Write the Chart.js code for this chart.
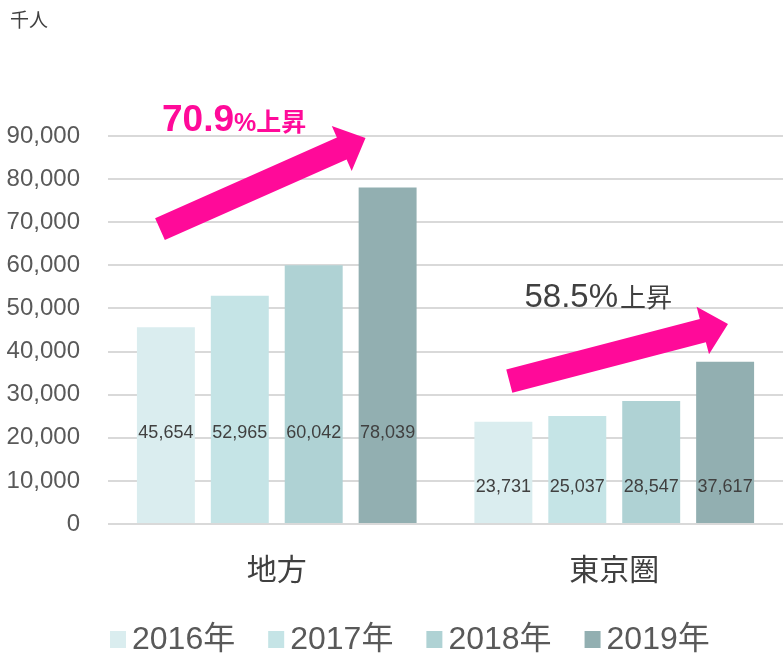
<!DOCTYPE html>
<html>
<head>
<meta charset="utf-8">
<script src="https://cdn.jsdelivr.net/npm/chart.js@4/dist/chart.umd.min.js"></script>
<style>
  html, body { margin: 0; padding: 0; background: #ffffff; }
  #wrap { width: 783px; height: 654px; }
</style>
</head>
<body>
<div id="wrap"><canvas id="chart" width="783" height="654"></canvas></div>
<script>
// Population (thousands) by region and year
const regions = ['地方', '東京圏'];
const years = ['2016年', '2017年', '2018年', '2019年'];
const v2016 = [45654, 23731];
const v2017 = [52965, 25037];
const v2018 = [60042, 28547];
const v2019 = [78039, 37617];
const yTickValues = [0, 10000, 20000, 30000, 40000, 50000, 60000, 70000, 80000, 90000];
const growthRates = ['70.9', '58.5'];
const unitLabel = '千人';

// Styling
const FONT = "'Liberation Sans', Arial, 'Noto Sans CJK JP', sans-serif";
const seriesColors = ['#DAEDEF', '#C5E4E6', '#AFD2D4', '#92AFB1'];
const PINK = '#FF0A99';

// Height (in axis units) at which each region's value labels sit
const labelLevel = [21200, 8600];

// Arrow geometry in scale units: x = category index offset, y = value
const arrowGeom = [
  { from: [-0.346, 68400], to: [0.263, 89550] },
  { from: [0.689, 33150], to: [1.337, 46400] }
];
// Growth caption anchors (left edge, baseline) in scale units
const captionAnchor = [[-0.340, 91150], [0.734, 50300]];

const seriesValues = [v2016, v2017, v2018, v2019];

function drawArrow(ctx, x0, y0, x1, y1, shaft, headW, headL) {
  const dx = x1 - x0, dy = y1 - y0;
  const len = Math.hypot(dx, dy);
  const ux = dx / len, uy = dy / len;
  const nx = -uy, ny = ux;
  const bx = x1 - ux * headL, by = y1 - uy * headL;
  const s = shaft / 2, h = headW / 2;
  ctx.beginPath();
  ctx.moveTo(x0 + nx * s, y0 + ny * s);
  ctx.lineTo(bx + nx * s, by + ny * s);
  ctx.lineTo(bx + nx * h, by + ny * h);
  ctx.lineTo(x1, y1);
  ctx.lineTo(bx - nx * h, by - ny * h);
  ctx.lineTo(bx - nx * s, by - ny * s);
  ctx.lineTo(x0 - nx * s, y0 - ny * s);
  ctx.closePath();
  ctx.fill();
}

const overlay = {
  id: 'overlay',
  afterDatasetsDraw(chart) {
    const { ctx, scales: { x, y } } = chart;
    ctx.save();

    // value labels on bars
    ctx.font = `18px ${FONT}`;
    ctx.fillStyle = '#404040';
    ctx.textAlign = 'center';
    ctx.textBaseline = 'middle';
    chart.data.datasets.forEach((ds, di) => {
      chart.getDatasetMeta(di).data.forEach((bar, i) => {
        ctx.fillText(ds.data[i].toLocaleString('en-US'), bar.x, y.getPixelForValue(labelLevel[i]));
      });
    });

    // growth arrows
    ctx.fillStyle = PINK;
    arrowGeom.forEach(a => {
      drawArrow(ctx,
        x.getPixelForValue(a.from[0]), y.getPixelForValue(a.from[1]),
        x.getPixelForValue(a.to[0]), y.getPixelForValue(a.to[1]),
        24, 49, 26);
    });

    // growth captions
    ctx.textAlign = 'left';
    ctx.textBaseline = 'alphabetic';
    const c0x = x.getPixelForValue(captionAnchor[0][0]);
    const c0y = y.getPixelForValue(captionAnchor[0][1]);
    ctx.fillStyle = PINK;
    ctx.font = `bold 37px ${FONT}`;
    ctx.fillText(growthRates[0], c0x, c0y);
    let w = ctx.measureText(growthRates[0]).width;
    ctx.font = `bold 25px ${FONT}`;
    ctx.fillText('%上昇', c0x + w, c0y);

    const c1x = x.getPixelForValue(captionAnchor[1][0]);
    const c1y = y.getPixelForValue(captionAnchor[1][1]);
    ctx.fillStyle = '#404040';
    ctx.font = `33px ${FONT}`;
    ctx.fillText(growthRates[1] + '%', c1x, c1y);
    w = ctx.measureText(growthRates[1] + '%').width;
    ctx.font = `26px ${FONT}`;
    ctx.fillText('上昇', c1x + w + 2, c1y);

    // unit label
    ctx.fillStyle = '#404040';
    ctx.font = `19px ${FONT}`;
    ctx.textBaseline = 'middle';
    ctx.fillText(unitLabel, 10, 22);

    ctx.restore();
  },
  afterDraw(chart) {
    // legend row along the bottom edge
    const { ctx } = chart;
    ctx.save();
    ctx.font = `32px ${FONT}`;
    ctx.textAlign = 'left';
    ctx.textBaseline = 'middle';
    const rowY = 639;
    let lx = 110;
    chart.data.datasets.forEach(ds => {
      ctx.fillStyle = ds.backgroundColor;
      ctx.fillRect(lx, rowY - 8, 16, 17);
      ctx.fillStyle = '#595959';
      ctx.fillText(ds.label, lx + 22, rowY + 1);
      lx += 22 + ctx.measureText(ds.label).width + 33;
    });
    ctx.restore();
  }
};

new Chart(document.getElementById('chart'), {
  type: 'bar',
  data: {
    labels: regions,
    datasets: years.map((yr, i) => ({
      label: yr,
      data: seriesValues[i],
      backgroundColor: seriesColors[i],
      borderWidth: 0,
      barPercentage: 0.784,
      categoryPercentage: 0.876
    }))
  },
  options: {
    responsive: false,
    animation: false,
    layout: { padding: { top: 136, left: 0, right: 0, bottom: 42 } },
    plugins: {
      legend: { display: false },
      tooltip: { enabled: false }
    },
    scales: {
      x: {
        grid: { display: false },
        border: { display: false },
        ticks: { color: '#404040', padding: 22, font: { family: FONT, size: 30 } }
      },
      y: {
        min: 0,
        max: 90000,
        afterBuildTicks: s => { s.ticks = yTickValues.map(v => ({ value: v })); },
        afterFit: s => { s.width = 108; },
        grid: { color: '#D9D9D9', lineWidth: 2, drawTicks: false },
        border: { display: false },
        ticks: {
          color: '#595959',
          padding: 28,
          font: { family: FONT, size: 24 },
          callback: v => v.toLocaleString('en-US')
        }
      }
    }
  },
  plugins: [overlay]
});
</script>
</body>
</html>
